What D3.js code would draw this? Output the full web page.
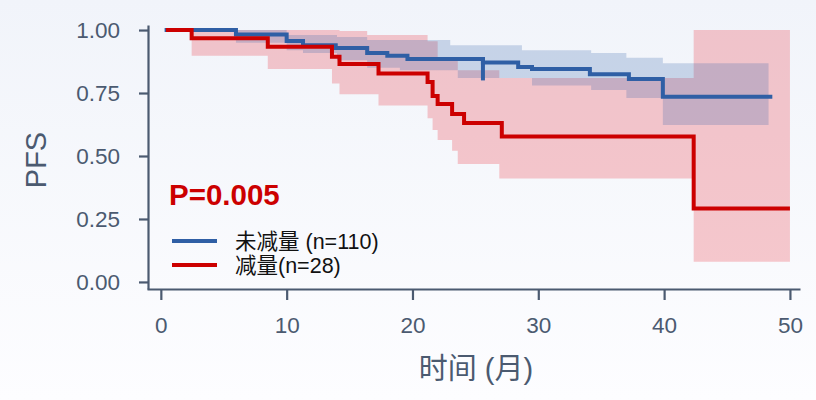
<!DOCTYPE html>
<html>
<head>
<meta charset="utf-8">
<script src="https://cdn.jsdelivr.net/npm/d3@7"></script>
<style>
  html, body { margin: 0; padding: 0; background: #ffffff; }
  svg { display: block; }
  text { font-family: "Liberation Sans", Arial, "Noto Sans CJK SC", sans-serif; }
</style>
</head>
<body>
<svg id="chart" width="816" height="400"></svg>
<script>
// ---------- data ----------
const xTicks = [0, 10, 20, 30, 40, 50];
const yTicks = [0, 0.25, 0.5, 0.75, 1.0];

// 未减量 (n=110)
const blueTime = [0.3, 5.97, 10.0, 11.3, 13.9, 16.4, 18.0, 19.6, 25.6, 28.4, 29.5, 34.1, 37.2, 39.9, 48.6];
const blueSurv = [1.0, 0.982, 0.956, 0.940, 0.929, 0.909, 0.898, 0.885, 0.871, 0.853, 0.845, 0.824, 0.806, 0.735, 0.735];
const blueBandTime  = [0.3, 5.97, 10.0, 11.3, 14.0, 16.4, 19.0, 21.8, 23.0, 23.6, 28.7, 29.5, 34.2, 37.0, 39.9, 48.3];
const blueBandUpper = [1.0, 1.0, 0.98, 0.98, 0.972, 0.96, 0.96, 0.96, 0.94, 0.94, 0.92, 0.92, 0.909, 0.89, 0.868, 0.868];
const blueBandLower = [1.0, 0.95, 0.92, 0.909, 0.88, 0.85, 0.84, 0.84, 0.84, 0.81, 0.81, 0.78, 0.762, 0.73, 0.623, 0.623];
const blueCensorTime = [25.6];
const blueCensorLow  = [0.80];

// 减量(n=28)
const redTime = [0.4, 2.45, 8.5, 13.6, 14.2, 17.3, 21.2, 21.6, 22.0, 23.15, 24.1, 27.1, 42.35, 50.0];
const redSurv = [1.0, 0.967, 0.934, 0.894, 0.865, 0.827, 0.794, 0.738, 0.706, 0.667, 0.631, 0.577, 0.292, 0.292];
const redBandTime  = [0.4, 2.45, 8.5, 13.6, 14.2, 16.4, 17.3, 21.2, 21.6, 22.0, 23.15, 23.6, 26.9, 42.35, 50.0];
const redBandLower = [1.0, 0.898, 0.845, 0.788, 0.745, 0.745, 0.70, 0.65, 0.603, 0.563, 0.521, 0.468, 0.411, 0.08, 0.08];
const redBandUpper = [1.0, 1.0, 1.0, 1.0, 0.996, 0.98, 0.98, 0.955, 0.955, 0.88, 0.88, 0.84, 0.81, 1.0, 1.0];

const seriesNames = ["未减量 (n=110)", "减量(n=28)"];
const seriesColors = ["#2f5fa5", "#cc0000"];
const pText = "P=0.005";
const xTitle = "时间 (月)";
const yTitle = "PFS";

// ---------- drawing ----------
const svg = d3.select("#chart");
const axisColor = "#4b5a70";

const defs = svg.append("defs");
const grad = defs.append("linearGradient").attr("id", "bg").attr("x1", 0).attr("y1", 0).attr("x2", 0).attr("y2", 1);
grad.append("stop").attr("offset", "0%").attr("stop-color", "#f1f4fa");
grad.append("stop").attr("offset", "100%").attr("stop-color", "#fdfdff");
svg.append("rect").attr("width", 816).attr("height", 400).attr("fill", "url(#bg)");

const x = d3.scaleLinear().domain([-1.1, 50.8]).range([147, 800]);
const y = d3.scaleLinear().domain([-0.028, 1.02]).range([289, 25]);

function zip(t, v) { return t.map((d, i) => ({ t: d, v: v[i] })); }
function zipBand(t, lo, hi) { return t.map((d, i) => ({ t: d, lo: lo[i], hi: hi[i] })); }

const area = d3.area().curve(d3.curveStepAfter)
  .x(d => x(d.t)).y0(d => y(d.lo)).y1(d => y(d.hi));
const line = d3.line().curve(d3.curveStepAfter)
  .x(d => x(d.t)).y(d => y(d.v));

// bands
svg.append("path").datum(zipBand(redBandTime, redBandLower, redBandUpper))
  .attr("d", area).attr("fill", "rgb(232,20,30)").attr("fill-opacity", 0.22);
svg.append("path").datum(zipBand(blueBandTime, blueBandLower, blueBandUpper))
  .attr("d", area).attr("fill", "rgb(50,100,170)").attr("fill-opacity", 0.23);

// lines
svg.append("path").datum(zip(blueTime, blueSurv))
  .attr("d", line).attr("fill", "none").attr("stroke", seriesColors[0]).attr("stroke-width", 4);
blueCensorTime.forEach((t, i) => {
  const idx = blueTime.indexOf(t);
  const prev = blueSurv[Math.max(0, idx - 1)];
  svg.append("line")
    .attr("x1", x(t)).attr("x2", x(t))
    .attr("y1", y(prev) - 2).attr("y2", y(blueCensorLow[i]))
    .attr("stroke", seriesColors[0]).attr("stroke-width", 4);
});
svg.append("path").datum(zip(redTime, redSurv))
  .attr("d", line).attr("fill", "none").attr("stroke", seriesColors[1]).attr("stroke-width", 4);

// axes
const xAxis = svg.append("g").attr("transform", "translate(0,289)")
  .call(d3.axisBottom(x).tickValues(xTicks).tickFormat(d3.format("d")).tickSize(11).tickSizeOuter(0).tickPadding(17));
const yAxis = svg.append("g").attr("transform", "translate(148,0)")
  .call(d3.axisLeft(y).tickValues(yTicks).tickFormat(d3.format(".2f")).tickSize(9).tickSizeOuter(0).tickPadding(19));
[xAxis, yAxis].forEach(g => {
  g.select(".domain").attr("stroke", axisColor).attr("stroke-width", 2.2);
  g.selectAll(".tick line").attr("stroke", axisColor).attr("stroke-width", 2.2);
  g.selectAll(".tick text").attr("fill", axisColor).style("font-size", "22.5px")
    .style("font-family", '"Liberation Sans", Arial, sans-serif');
});

// axis titles
svg.append("text").attr("x", 476).attr("y", 379).attr("text-anchor", "middle")
  .attr("fill", axisColor).style("font-size", "29px").text(xTitle);
svg.append("text").attr("transform", "translate(46,160) rotate(-90)").attr("text-anchor", "middle")
  .attr("fill", axisColor).style("font-size", "29px").text(yTitle);

// p value
svg.append("text").attr("x", 169).attr("y", 205).attr("fill", "#cc0000")
  .style("font-size", "29.5px").style("font-weight", "bold").text(pText);

// legend
seriesNames.forEach((name, i) => {
  const ly = 241 + i * 24;
  svg.append("line").attr("x1", 172).attr("x2", 217).attr("y1", ly).attr("y2", ly)
    .attr("stroke", seriesColors[i]).attr("stroke-width", 4);
  svg.append("text").attr("x", 235).attr("y", ly + 7.5).attr("fill", "#111111")
    .style("font-size", "21.5px").text(name);
});
</script>
</body>
</html>
